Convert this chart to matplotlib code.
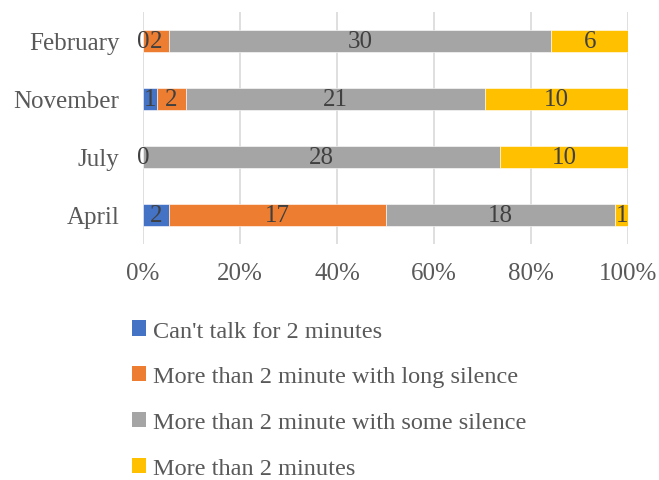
import numpy as np
import matplotlib.pyplot as plt
from matplotlib.patches import Patch

plt.rcParams['font.family'] = ['Liberation Serif', 'DejaVu Serif']

# survey months, bottom to top
months = ['April', 'July', 'November', 'February']

# counts per answer category (None = no entry for that month)
cant_talk = [2, 0, 1, 0]
long_silence = [17, None, 2, 2]
some_silence = [18, 28, 21, 30]
over_two = [1, 10, 10, 6]

series = [
    ("Can't talk for 2 minutes", cant_talk, '#4472C4'),
    ('More than 2 minute with long silence', long_silence, '#ED7D31'),
    ('More than 2 minute with some silence', some_silence, '#A5A5A5'),
    ('More than 2 minutes', over_two, '#FFC000'),
]

ticks = [0, 0.2, 0.4, 0.6, 0.8, 1.0]
tick_labels = ['0%', '20%', '40%', '60%', '80%', '100%']

text_col = '#595959'
label_col = '#404040'
fs = 18

vals = np.array([[np.nan if v is None else v for v in s[1]] for s in series], dtype=float)
totals = np.nansum(vals, axis=0)

fig = plt.figure(figsize=(6.59, 4.81), dpi=100)
ax = fig.add_axes([0.217, 0.491, 0.736, 0.482])

y = np.arange(len(months))
left = np.zeros(len(months))
for i, (name, _, col) in enumerate(series):
    for j in range(len(months)):
        v = vals[i, j]
        if np.isnan(v):
            continue
        w = v / totals[j]
        ax.barh(y[j], w, left=left[j], height=0.39, color=col,
                edgecolor='white', linewidth=0.4, zorder=2)
        ax.text(left[j] + w / 2, y[j], f'{int(v)}', ha='center', va='center',
                fontsize=fs, color=label_col, zorder=3)
        left[j] += w

ax.set_xlim(0, 1)
ax.set_ylim(-0.5, 3.5)
ax.set_xticks(ticks)
ax.set_xticklabels(tick_labels)
ax.set_yticks(y)
ax.set_yticklabels(months)
ax.grid(axis='x', color='#d9d9d9', linewidth=1.2, zorder=0)
for sp in ax.spines.values():
    sp.set_visible(False)
ax.tick_params(axis='both', length=0, labelsize=fs, labelcolor=text_col)
ax.tick_params(axis='x', pad=13)
ax.tick_params(axis='y', pad=17)

handles = [Patch(facecolor=s[2]) for s in series]
fig.legend(handles, [s[0] for s in series], loc='upper left',
           bbox_to_anchor=(0.185, 0.352), frameon=False, fontsize=17.5,
           handlelength=0.58, handleheight=0.58, handletextpad=0.3,
           labelspacing=1.02, labelcolor=text_col, borderaxespad=0)

fig.savefig('out.png', dpi=100)
